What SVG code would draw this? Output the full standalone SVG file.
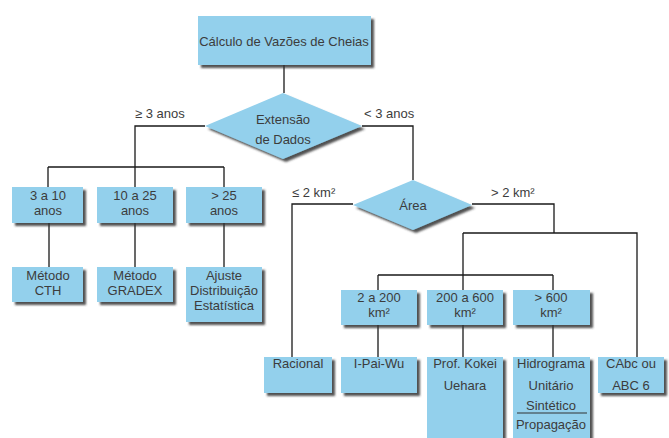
<svg xmlns="http://www.w3.org/2000/svg" width="669" height="438" viewBox="0 0 669 438">
<style>
.b{fill:#93d0ec;filter:url(#sh)}
.t{font-family:"Liberation Sans",Arial,sans-serif;font-size:13px;fill:#3c3c3c;text-anchor:middle}
.l{font-family:"Liberation Sans",Arial,sans-serif;font-size:13px;fill:#3c3c3c}
.c{fill:none;stroke:#1a1a1a;stroke-width:1.3}
</style>
<defs>
<filter id="sh" x="-20%" y="-20%" width="140%" height="150%">
<feGaussianBlur in="SourceAlpha" stdDeviation="1.2"/>
<feOffset dx="3" dy="3" result="o"/>
<feFlood flood-color="#333" flood-opacity="0.85"/>
<feComposite in2="o" operator="in"/>
<feMerge><feMergeNode/><feMergeNode in="SourceGraphic"/></feMerge>
</filter>
</defs>
<rect width="669" height="438" fill="#fff"/>
<g id="connectors">
<path class="c" d="M284 65V93"/>
<path class="c" d="M205 126H135V167M48 167H224M48 167V187M135 167V187M224 167V187"/>
<path class="c" d="M49 223V267M135 223V267M224 223V267"/>
<path class="c" d="M362 126H413V180"/>
<path class="c" d="M353 204H292V357"/>
<path class="c" d="M472 204H554V233M463 233H637V357M463 233V290M378 275H553M378 275V290M553 275V290"/>
<path class="c" d="M378 325V357M463 325V357M553 325V357"/>
<text class="l" x="135" y="118">≥ 3 anos</text>
<text class="l" x="364" y="118">&lt; 3 anos</text>
<text class="l" x="292" y="197">≤ 2 km²</text>
<text class="l" x="491" y="197">&gt; 2 km²</text>
</g>
<g id="n_calc"><rect class="b" x="198" y="16" width="173" height="49"/><text class="t" x="284" y="46">Cálculo de Vazões de Cheias</text></g>
<g id="n_ext"><polygon class="b" points="283,93 362,126 283,159 205,126"/><text class="t" x="283" y="124">Extensão</text><text class="t" x="283" y="144">de Dados</text></g>
<g id="n_3a10"><rect class="b" x="12" y="187" width="71" height="36"/><text class="t" x="48" y="200">3 a 10</text><text class="t" x="48" y="215">anos</text></g>
<g id="n_10a25"><rect class="b" x="97" y="187" width="76" height="36"/><text class="t" x="135" y="200">10 a 25</text><text class="t" x="135" y="215">anos</text></g>
<g id="n_25"><rect class="b" x="186" y="187" width="76" height="36"/><text class="t" x="224" y="200">&gt; 25</text><text class="t" x="224" y="215">anos</text></g>
<g id="n_cth"><rect class="b" x="12" y="267" width="71" height="35"/><text class="t" x="48" y="280">Método</text><text class="t" x="48" y="295">CTH</text></g>
<g id="n_gradex"><rect class="b" x="97" y="267" width="76" height="35"/><text class="t" x="135" y="280">Método</text><text class="t" x="135" y="295">GRADEX</text></g>
<g id="n_ajuste"><rect class="b" x="186" y="267" width="76" height="55"/><text class="t" x="224" y="280">Ajuste</text><text class="t" x="224" y="295">Distribuição</text><text class="t" x="224" y="310">Estatística</text></g>
<g id="n_area"><polygon class="b" points="413,180 472,205 413,230 353,205"/><text class="t" x="413" y="210">Área</text></g>
<g id="n_2a200"><rect class="b" x="341" y="290" width="76" height="35"/><text class="t" x="379" y="302">2 a 200</text><text class="t" x="379" y="317">km²</text></g>
<g id="n_200a600"><rect class="b" x="427" y="290" width="76" height="35"/><text class="t" x="465" y="302">200 a 600</text><text class="t" x="465" y="317">km²</text></g>
<g id="n_600"><rect class="b" x="513" y="290" width="77" height="35"/><text class="t" x="551" y="302">&gt; 600</text><text class="t" x="551" y="317">km²</text></g>
<g id="n_racional"><rect class="b" x="264" y="357" width="68" height="36"/><text class="t" x="298" y="368">Racional</text></g>
<g id="n_ipaiwu"><rect class="b" x="341" y="357" width="76" height="36"/><text class="t" x="379" y="368">I-Pai-Wu</text></g>
<g id="n_kokei"><rect class="b" x="427" y="357" width="76" height="85"/><text class="t" x="465" y="368">Prof. Kokei</text><text class="t" x="465" y="390">Uehara</text></g>
<g id="n_hidro"><rect class="b" x="513" y="357" width="77" height="85"/><text class="t" x="551" y="368">Hidrograma</text><text class="t" x="551" y="390">Unitário</text><text class="t" x="551" y="410">Sintético</text><path d="M517 413H587" stroke="#333" stroke-width="1.2"/><text class="t" x="551" y="429">Propagação</text></g>
<g id="n_cabc"><rect class="b" x="598" y="357" width="66" height="36"/><text class="t" x="631" y="368">CAbc ou</text><text class="t" x="631" y="390">ABC 6</text></g>
</svg>
